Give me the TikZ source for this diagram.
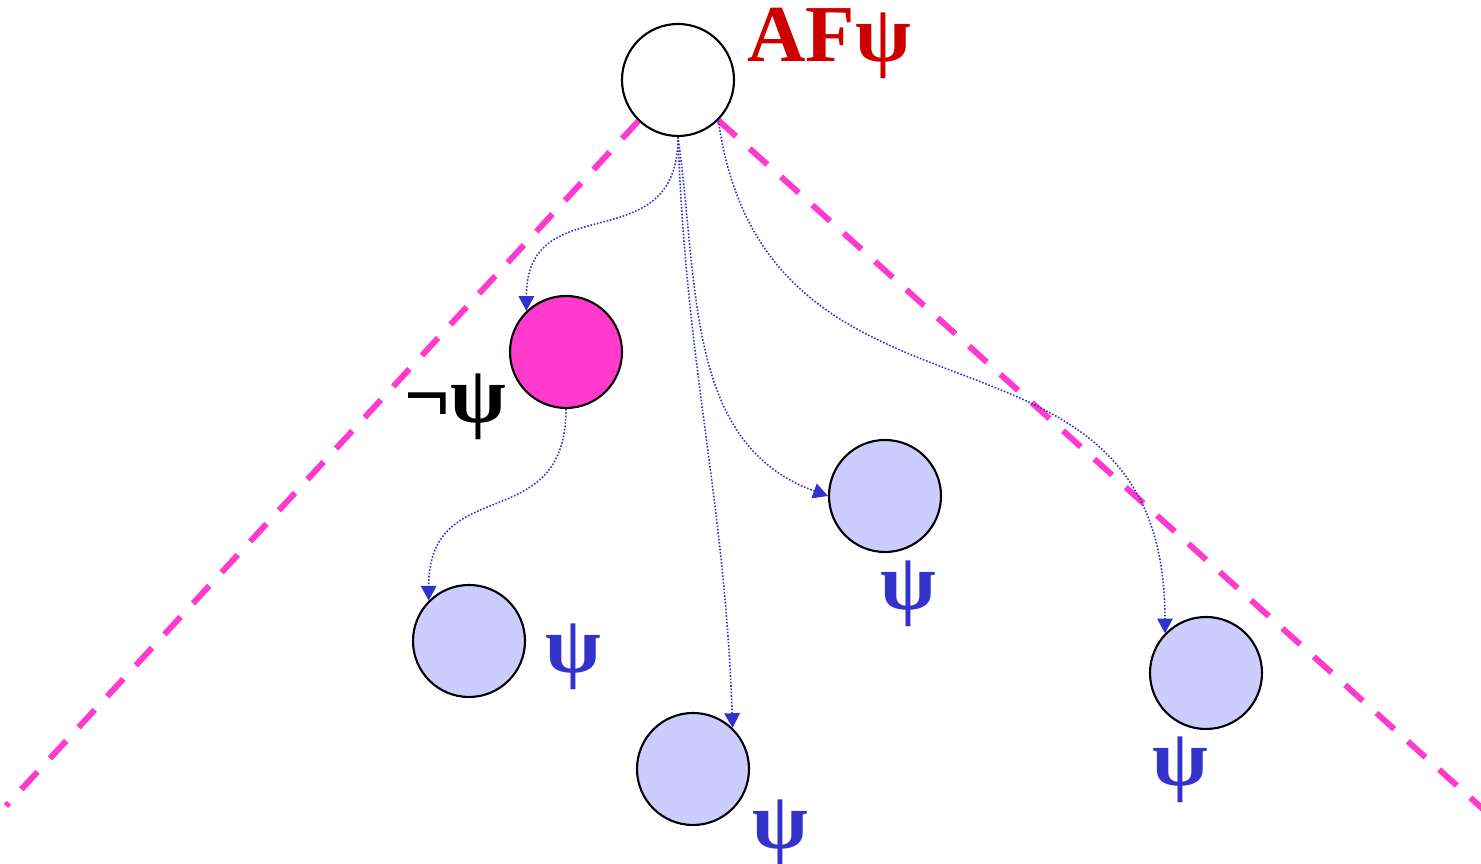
\documentclass[tikz,border=0pt]{standalone}
\usepackage{fontspec}
\setmainfont{Liberation Serif}
\usetikzlibrary{arrows.meta}
\definecolor{afred}{HTML}{CC0000}
\definecolor{psiblue}{HTML}{3333CC}
\definecolor{hotpink}{HTML}{FF3ACC}
\definecolor{paleblue}{HTML}{CCCCFF}

\begin{document}
\begin{tikzpicture}[>={Triangle[length=4.2pt,width=4.4pt]},
  state/.style={circle,draw=black,line width=.6pt,minimum size=1.12cm,
    inner sep=0pt},
  succ/.style={->,psiblue,line width=.45pt,dash pattern=on .45pt off .5pt},
  bound/.style={hotpink,line width=1.7pt,dash pattern=on 6.8pt off 5.2pt},
  big/.style={font=\fontsize{23}{23}\selectfont\bfseries,inner sep=0pt}]
  \useasboundingbox (0,0) rectangle (14.81,8.64);

  \node[state,fill=white] (root) at (6.78,7.84) {};
  \node[state,fill=hotpink] (neg) at (5.66,5.12) {};
  \node[state,fill=paleblue] (sa) at (4.69,2.23) {};
  \node[state,fill=paleblue] (sb) at (6.93,0.95) {};
  \node[state,fill=paleblue] (sc) at (8.85,3.68) {};
  \node[state,fill=paleblue] (sd) at (12.06,1.91) {};

  \node[big,text=afred] (lroot) at (8.29,8.21) {AFψ};
  \node[big] (lneg) at (4.55,4.57) {¬ψ};
  \node[big,text=psiblue] (la) at (5.73,2.07) {ψ};
  \node[big,text=psiblue] (lb) at (7.80,0.31) {ψ};
  \node[big,text=psiblue] (lc) at (9.08,2.70) {ψ};
  \node[big,text=psiblue] (ld) at (11.80,0.94) {ψ};

  \coordinate (lfoot) at (0.06,0.58);
  \coordinate (rfoot) at (14.84,0.54);
  \draw[bound] (root.226)--(lfoot);
  \draw[bound] (root.-45)--(rfoot);

  \draw[succ] (root.south) to[out=-90,in=90,looseness=1.4] (neg.134);
  \draw[succ] (root.south) to[out=-88,in=92] (sb.46);
  \draw[succ] (root.south) to[out=-82,in=160] (sc.west);
  \draw[succ] (root.-45) to[out=-82,in=90,looseness=1.3] (sd.136);
  \draw[succ] (neg.south) to[out=-90,in=90,looseness=1.4] (sa.135);
\end{tikzpicture}
\end{document}
